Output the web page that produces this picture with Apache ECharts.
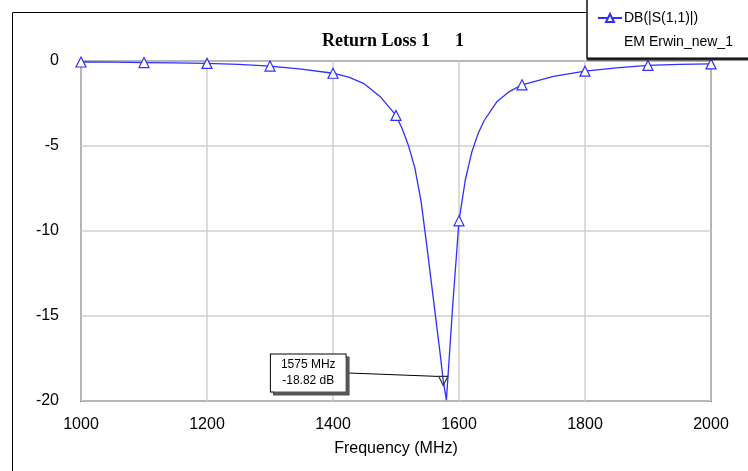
<!DOCTYPE html>
<html>
<head>
<meta charset="utf-8">
<script src="https://cdn.jsdelivr.net/npm/echarts@6/dist/echarts.min.js"></script>
<style>html,body{margin:0;padding:0;background:#fff;}#c{width:748px;height:471px;}</style>
</head>
<body>
<div id="c"></div>
<script>
const freq = [1000,1050,1100,1150,1200,1250,1300,1350,1400,1425,1450,1475,1500,1510,1520,1530,1540,1550,1560,1570,1575,1580,1590,1600,1610,1620,1630,1640,1660,1680,1700,1750,1800,1850,1900,1950,2000];
const db = [-0.06,-0.07,-0.09,-0.11,-0.14,-0.2,-0.3,-0.48,-0.72,-0.95,-1.35,-2.1,-3.2,-4.0,-5.0,-6.3,-8.3,-11.2,-14.2,-17.2,-18.82,-19.95,-14.4,-9.4,-7.0,-5.4,-4.3,-3.5,-2.4,-1.8,-1.4,-0.9,-0.6,-0.4,-0.26,-0.2,-0.17];
const markerFreqs = [1000,1100,1200,1300,1400,1500,1600,1700,1800,1900,2000];
const markerPoint = [1575, -18.82];
const xTicks = {min: 1000, max: 2000, interval: 200};
const yTicks = {min: -20, max: 0, interval: 5};
const seriesName = 'DB(|S(1,1)|)';
const seriesSub = 'EM Erwin_new_1';
const titleParts = ['Return Loss 1', '1'];
const blue = '#2f2fff';

const lineData = freq.map((f, i) => markerFreqs.includes(f)
  ? {value: [f, db[i]]}
  : {value: [f, db[i]], symbol: 'none'});

const chart = echarts.init(document.getElementById('c'), null, {renderer: 'canvas'});
chart.setOption({
  animation: false,
  backgroundColor: '#fff',
  textStyle: {fontFamily: 'Liberation Sans, Arial, sans-serif'},
  title: {
    text: '{a|' + titleParts[0] + '} {b|' + titleParts[1] + '}',
    left: 322, top: 32,
    padding: 0,
    textStyle: {
      rich: {
        a: {fontFamily: 'Liberation Serif, Times New Roman, serif', fontWeight: 'bold', fontSize: 18, color: '#000'},
        b: {fontFamily: 'Liberation Serif, Times New Roman, serif', fontWeight: 'bold', fontSize: 18, color: '#000', padding: [0, 0, 0, 20]}
      }
    }
  },
  legend: {
    data: [seriesName],
    left: 587, top: -5,
    orient: 'vertical',
    backgroundColor: '#fff',
    borderColor: '#000', borderWidth: 1,
    padding: [16, 60, 33, 10],
    itemWidth: 24, itemHeight: 10,
    itemGap: 2,
    shadowColor: 'rgba(40,40,40,1)', shadowOffsetX: 0, shadowOffsetY: 2, shadowBlur: 0,
    textStyle: {fontSize: 14, color: '#000', fontFamily: 'Liberation Sans, Arial, sans-serif', padding: [0,0,0,-3]}
  },
  graphic: [
    {type: 'rect', left: 10, top: 10, shape: {width: 800, height: 500}, style: {fill: 'none', stroke: '#000', lineWidth: 1}, z: -10, silent: true},
    {type: 'text', left: 624, top: 35, style: {text: seriesSub, fontSize: 14, fill: '#000', fontFamily: 'Liberation Sans, Arial, sans-serif'}, z: 100}
  ],
  grid: {
    left: 81, right: 37, top: 61, bottom: 70,
    show: true, borderColor: '#6a6a6a', borderWidth: 2, backgroundColor: 'transparent'
  },
  xAxis: {
    type: 'value', min: xTicks.min, max: xTicks.max, interval: xTicks.interval,
    name: 'Frequency (MHz)', nameLocation: 'middle', nameGap: 40,
    nameTextStyle: {fontSize: 16, color: '#000'},
    axisLine: {show: false}, axisTick: {show: false},
    axisLabel: {fontSize: 16, color: '#000', margin: 16, formatter: v => String(v)},
    splitLine: {show: true, lineStyle: {color: '#d0d0d0', width: 1.5}}
  },
  yAxis: {
    type: 'value', min: yTicks.min, max: yTicks.max, interval: yTicks.interval,
    axisLine: {show: false}, axisTick: {show: false},
    axisLabel: {fontSize: 16, color: '#000', margin: 22, formatter: v => String(v)},
    splitLine: {show: true, lineStyle: {color: '#d0d0d0', width: 1.5}}
  },
  series: [
    {
      name: seriesName,
      type: 'line',
      data: lineData,
      symbol: 'triangle',
      symbolSize: 10,
      showAllSymbol: true,
      clip: false,
      lineStyle: {color: blue, width: 1.3},
      itemStyle: {color: '#fff', borderColor: blue, borderWidth: 1.2},
      z: 3
    },
    {
      name: 'marker',
      type: 'scatter',
      data: [markerPoint],
      symbol: 'triangle',
      symbolRotate: 180,
      symbolSize: 9,
      itemStyle: {color: 'rgba(255,255,255,0)', borderColor: '#333', borderWidth: 1.2, opacity: 1},
      label: {
        show: true,
        position: 'inside',
        formatter: p => p.value[0] + ' MHz\n' + p.value[1].toFixed(2) + ' dB',
        fontSize: 12, lineHeight: 16, color: '#000',
        fontFamily: 'Liberation Sans, Arial, sans-serif',
        backgroundColor: '#fff', borderColor: '#000', borderWidth: 1,
        padding: [3, 10, 2, 10],
        shadowColor: '#555', shadowOffsetX: 3, shadowOffsetY: 3, shadowBlur: 0,
        textShadowColor: 'transparent', textShadowBlur: 0
      },
      labelLayout: {dx: -135, dy: -8},
      labelLine: {show: true, lineStyle: {color: '#000', width: 1}},
      z: 5
    }
  ]
});
</script>
</body>
</html>
